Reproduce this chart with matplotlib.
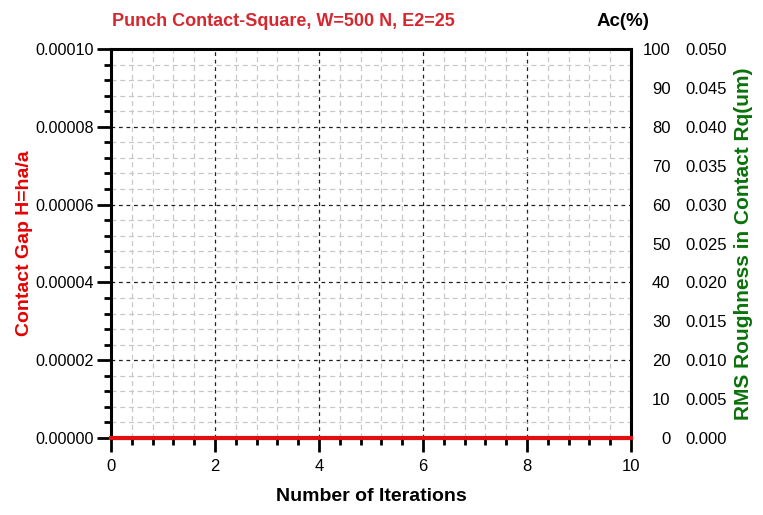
import numpy as np
import matplotlib.pyplot as plt
from matplotlib.ticker import MultipleLocator, FormatStrFormatter

plt.rcParams['font.family'] = ['Liberation Sans', 'DejaVu Sans']

# data: gap stays at zero for every iteration
iterations = [0, 1, 2, 3, 4, 5, 6, 7, 8, 9, 10]
contact_gap = [0, 0, 0, 0, 0, 0, 0, 0, 0, 0, 0]

title = 'Punch Contact-Square, W=500 N, E2=25'
red = '#d8262e'
green = '#0a720a'

fig = plt.figure(figsize=(7.63, 5.15), dpi=100)
ax = fig.add_axes([111/763, 1 - 438/515, 520/763, 389/515])

ax.plot(iterations, contact_gap, color='#e01010', lw=3, clip_on=False, zorder=5)

ax.set_xlim(0, 10)
ax.set_ylim(0, 0.0001)
ax.xaxis.set_major_locator(MultipleLocator(2))
ax.xaxis.set_minor_locator(MultipleLocator(0.4))
ax.yaxis.set_major_locator(MultipleLocator(0.00002))
ax.yaxis.set_minor_locator(MultipleLocator(0.000004))
ax.yaxis.set_major_formatter(FormatStrFormatter('%.5f'))

ax.grid(which='minor', color='#c8c8c8', ls=(0, (4, 3)), lw=0.9)
ax.grid(which='major', color='#202020', ls=(0, (3, 3)), lw=0.9)
ax.set_axisbelow(True)

for s in ['left', 'bottom', 'top', 'right']:
    ax.spines[s].set_linewidth(2.2)
# ticks on right spine mirror the left ones
ax.tick_params(which='both', right=True)
ax.tick_params(which='major', length=10, width=2, labelsize=11.6, pad=2)
ax.tick_params(which='minor', length=5, width=2)
ax.tick_params(axis='x', which='major', labelsize=12, pad=5)

ax.set_xlabel('Number of Iterations', fontsize=14, fontweight='bold', labelpad=10)
ax.set_ylabel('Contact Gap H=ha/a', fontsize=14, fontweight='bold', color='#e60000')
ax.yaxis.set_label_coords(-0.15, 0.5)

# right axis: contact area percentage (labels only)
ax2 = ax.twinx()
ax2.set_ylim(0, 100)
ax2.yaxis.set_major_locator(MultipleLocator(10))
ax2.yaxis.set_minor_locator(MultipleLocator(5))
ax2.tick_params(which='both', length=0, labelsize=12, pad=28.5)
for lab in ax2.get_yticklabels():
    lab.set_horizontalalignment('right')
for s in ax2.spines.values():
    s.set_visible(False)

# second right axis: RMS roughness
ax3 = ax.twinx()
ax3.set_ylim(0, 0.05)
ax3.yaxis.set_major_locator(MultipleLocator(0.005))
ax3.yaxis.set_major_formatter(FormatStrFormatter('%.3f'))
ax3.tick_params(which='both', length=0, labelsize=12, pad=39.5)
for s in ax3.spines.values():
    s.set_visible(False)
ax3.set_ylabel('RMS Roughness in Contact Rq(um)', fontsize=15, fontweight='bold',
               color=green, labelpad=5)

fig.text(112/763, 1 - 22/515, title, fontsize=13, fontweight='bold', color=red,
         ha='left', va='center')
fig.text(623/763, 1 - 22/515, 'Ac(%)', fontsize=13.5, fontweight='bold',
         ha='center', va='center')

fig.savefig('out.png', dpi=100)
